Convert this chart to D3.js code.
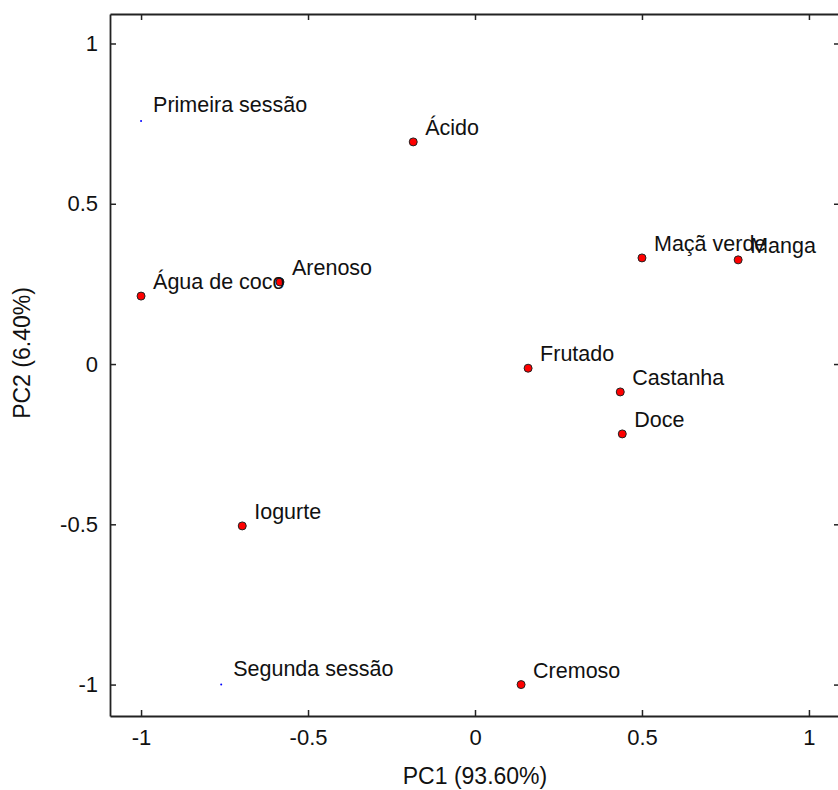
<!DOCTYPE html>
<html>
<head>
<meta charset="utf-8">
<script src="https://cdn.jsdelivr.net/npm/d3@7"></script>
<style>
  body { margin: 0; background: #fff; }
  text { font-family: "Liberation Sans", Arial, sans-serif; fill: #111; }
</style>
</head>
<body>
<div class="biplot__container"></div>
<script>
// loadings (PC1, PC2)
const attrNames = ['Ácido', 'Maçã verde', 'Manga', 'Água de coco', 'Arenoso', 'Frutado', 'Castanha', 'Doce', 'Iogurte', 'Cremoso'];
const attrPC1 = [-0.185, 0.50, 0.788, -1.0, -0.584, 0.159, 0.435, 0.441, -0.697, 0.138];
const attrPC2 = [0.693, 0.331, 0.325, 0.212, 0.256, -0.013, -0.087, -0.218, -0.505, -1.0];

// sessions
const sessionNames = ['Primeira sessão', 'Segunda sessão'];
const sessionPC1 = [-1.0, -0.76];
const sessionPC2 = [0.758, -1.0];

const tickValues = [-1, -0.5, 0, 0.5, 1];

const width = 838;
const height = 790;
const margin = { top: 14, right: -2, bottom: 74, left: 110 };
const widthChart = width - margin.left - margin.right;
const heightChart = height - margin.top - margin.bottom;

const xScale = d3.scaleLinear().domain([-1.093, 1.093]).range([0, widthChart]);
const yScale = d3.scaleLinear().domain([-1.098, 1.092]).range([heightChart, 0]);

const svg = d3.select('.biplot__container')
  .append('svg')
  .attr('width', width)
  .attr('height', height)
  .append('g')
  .attr('transform', `translate(${margin.left}, ${margin.top})`);

// plain hyphen for negatives, like the original
const fmt = d => String(d);

// axes, ticks pointing inward on all four sides
const axisStyle = g => {
  g.select('.domain').attr('stroke', '#222').attr('stroke-width', 1.8);
  g.selectAll('.tick line').attr('stroke', '#222').attr('stroke-width', 1.5);
};

svg.append('g')
  .attr('transform', `translate(0,${heightChart})`)
  .call(d3.axisBottom(xScale).tickValues(tickValues).tickFormat(fmt).tickSizeInner(-6).tickSizeOuter(0).tickPadding(13))
  .call(axisStyle)
  .selectAll('text')
  .style('font-size', '22px')
  .attr('fill', '#111');

svg.append('g')
  .call(d3.axisTop(xScale).tickValues(tickValues).tickFormat('').tickSizeInner(-6).tickSizeOuter(0))
  .call(axisStyle);

svg.append('g')
  .call(d3.axisLeft(yScale).tickValues(tickValues).tickFormat(fmt).tickSizeInner(-6).tickSizeOuter(0).tickPadding(12))
  .call(axisStyle)
  .selectAll('text')
  .style('font-size', '22px')
  .attr('fill', '#111');

svg.append('g')
  .attr('transform', `translate(${widthChart},0)`)
  .call(d3.axisRight(yScale).tickValues(tickValues).tickFormat('').tickSizeInner(-6).tickSizeOuter(0))
  .call(axisStyle);

// axis labels
svg.append('text')
  .attr('x', widthChart / 2)
  .attr('y', heightChart + 68)
  .attr('text-anchor', 'middle')
  .style('font-size', '23px')
  .text('PC1 (93.60%)');

svg.append('text')
  .attr('transform', `translate(${-80},${heightChart / 2 - 12}) rotate(-90)`)
  .attr('text-anchor', 'middle')
  .style('font-size', '23px')
  .text('PC2 (6.40%)');

// session points
const sessions = sessionNames.map((n, i) => ({ name: n, x: sessionPC1[i], y: sessionPC2[i] }));
svg.append('g')
  .selectAll('circle')
  .data(sessions)
  .enter()
  .append('circle')
  .attr('cx', d => xScale(d.x))
  .attr('cy', d => yScale(d.y))
  .attr('r', 1)
  .style('fill', '#0000ff');

svg.append('g')
  .selectAll('text')
  .data(sessions)
  .enter()
  .append('text')
  .attr('x', d => xScale(d.x) + 12)
  .attr('y', d => yScale(d.y) - 9)
  .style('font-size', '21.5px')
  .text(d => d.name);

// attribute points
const attrs = attrNames.map((n, i) => ({ name: n, x: attrPC1[i], y: attrPC2[i] }));
svg.append('g')
  .selectAll('circle')
  .data(attrs)
  .enter()
  .append('circle')
  .attr('cx', d => xScale(d.x))
  .attr('cy', d => yScale(d.y))
  .attr('r', 4)
  .style('fill', '#ff0000')
  .style('stroke', '#222')
  .style('stroke-width', 1);

svg.append('g')
  .selectAll('text')
  .data(attrs)
  .enter()
  .append('text')
  .attr('x', d => xScale(d.x) + 12)
  .attr('y', d => yScale(d.y) - 7)
  .style('font-size', '21.5px')
  .text(d => d.name);
</script>
</body>
</html>
